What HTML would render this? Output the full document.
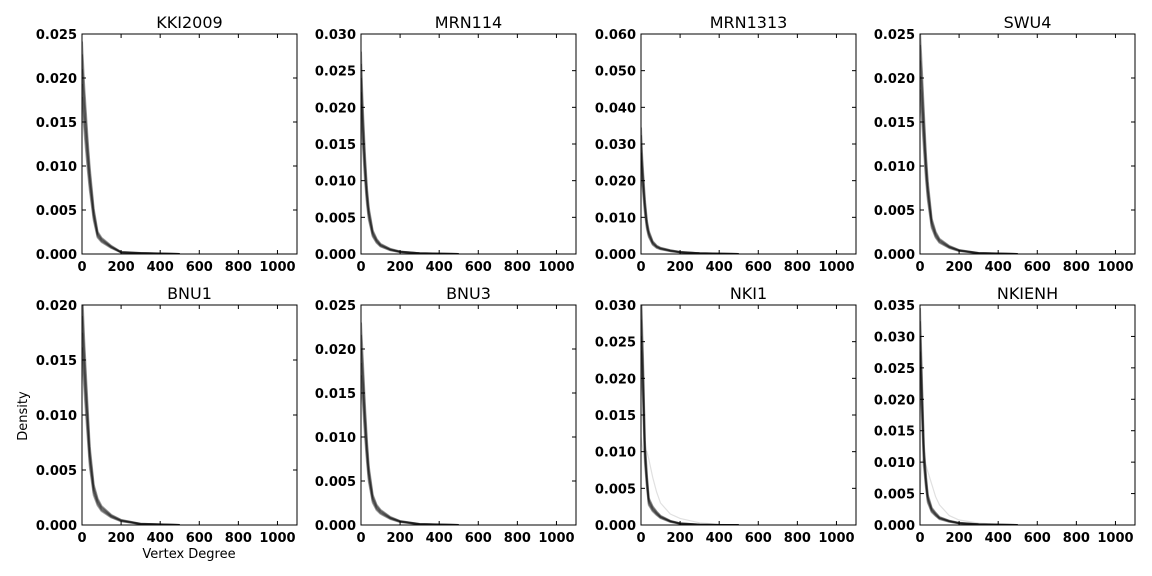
<!DOCTYPE html>
<html><head><meta charset="utf-8"><style>
html,body{margin:0;padding:0;background:#fff;width:1152px;height:576px;overflow:hidden}
svg{display:block}
.tk{font:bold 13px "DejaVu Sans","Liberation Sans",sans-serif;fill:#000}
.tt{font:16px "DejaVu Sans","Liberation Sans",sans-serif;fill:#000}
.al{font:13px "DejaVu Sans","Liberation Sans",sans-serif;fill:#000}
</style></head><body>
<svg id="fig" width="1152" height="576" xmlns="http://www.w3.org/2000/svg"></svg>
<script>
const panelNames = ["KKI2009","MRN114","MRN1313","SWU4","BNU1","BNU3","NKI1","NKIENH"];
const yMaxes = [0.025,0.030,0.060,0.025,0.020,0.025,0.030,0.035];
const ySteps = [0.005,0.005,0.01,0.005,0.005,0.005,0.005,0.005];
const xTicks = [0,200,400,600,800,1000];
const degrees = [0,5,10,20,30,40,60,80,100,150,200,300,400,500];
const densKKI2009 = [0.021,0.019,0.017,0.014,0.011,0.0085,0.0045,0.0022,0.0016,0.0008,0.0002,0.0001,0.00005,0];
const densMRN114  = [0.024,0.020,0.017,0.012,0.008,0.0055,0.0028,0.0018,0.0012,0.0006,0.0003,0.0001,0.00005,0];
const densMRN1313 = [0.030,0.024,0.020,0.013,0.008,0.0055,0.0030,0.0020,0.0015,0.0009,0.0005,0.0002,0.0001,0];
const densSWU4    = [0.022,0.020,0.018,0.014,0.010,0.0072,0.0035,0.0022,0.0015,0.0008,0.0004,0.0001,0.00005,0];
const densBNU1    = [0.019,0.017,0.015,0.012,0.009,0.0062,0.0032,0.0021,0.0015,0.0008,0.0004,0.0001,0.00005,0];
const densBNU3    = [0.020,0.018,0.016,0.012,0.0085,0.0058,0.0030,0.0020,0.0015,0.0008,0.0004,0.0001,0.00005,0];
const densNKI1    = [0.028,0.024,0.020,0.010,0.006,0.0032,0.0022,0.0016,0.0011,0.0005,0.0002,0.00005,0,0];
const densNKIENH  = [0.030,0.025,0.020,0.011,0.007,0.0042,0.0024,0.0017,0.0011,0.0006,0.0003,0.0001,0.00005,0];
const outlierNKI1   = [0.012,0.011,0.0102,0.0102,0.0100,0.0090,0.0065,0.0045,0.0030,0.0015,0.0009,0.0003,0.0001,0];
const outlierNKIENH = [0.005,0.008,0.0100,0.0105,0.0095,0.0085,0.0065,0.0045,0.0032,0.0015,0.0008,0.0003,0.0001,0];
const seriesList = [densKKI2009,densMRN114,densMRN1313,densSWU4,densBNU1,densBNU3,densNKI1,densNKIENH];
const outliers = [null,null,null,null,null,null,outlierNKI1,outlierNKIENH];

const NS="http://www.w3.org/2000/svg";
const svg=document.getElementById('fig');
function mk(tag,attrs,parent){const e=document.createElementNS(NS,tag);for(const k in attrs)e.setAttribute(k,attrs[k]);(parent||svg).appendChild(e);return e;}
const lefts=[82,361,641,920], tops=[34,305], W=215, H=220, XMAX=1100;

panelNames.forEach((name,i)=>{
  const L=lefts[i%4], T=tops[Math.floor(i/4)];
  const g=mk('g',{});
  
  
  const xs=v=>L+v/XMAX*W, ys=v=>T+H-v/yMaxes[i]*H;
  const draw=(arr,scale,op,sw)=>{
    const d=degrees.map((x,j)=>(j?'L':'M')+xs(x).toFixed(1)+','+ys(arr[j]*scale).toFixed(1)).join('');
    const p=mk('path',{d:d,fill:'none',stroke:'#000','stroke-opacity':op,'stroke-width':sw,'stroke-linejoin':'round'},g);
    
    
  };
  const clip=mk('clipPath',{id:'c'+i},g);mk('rect',{x:L,y:T,width:W,height:H},clip);
  const cg=mk('g',{'clip-path':'url(#c'+i+')'},g);
  const gg=g; 
  [0.85,0.92,1.0,1.08,1.15].forEach(s=>{
    const arr=seriesList[i];
    const d=degrees.map((x,j)=>(j?'L':'M')+xs(x).toFixed(1)+','+ys(arr[j]*s).toFixed(1)).join('');
    const p=mk('path',{d:d,fill:'none',stroke:'#000','stroke-opacity':0.35,'stroke-width':2,'stroke-linejoin':'round'},cg);
    
    
  });
  if(outliers[i]){
    const arr=outliers[i];
    const d=degrees.map((x,j)=>(j?'L':'M')+xs(x).toFixed(1)+','+ys(arr[j]).toFixed(1)).join('');
    const p=mk('path',{d:d,fill:'none',stroke:'#000','stroke-opacity':0.12,'stroke-width':1.2},cg);
    
    
  }
  const fr=mk('rect',{x:L,y:T,width:W,height:H,fill:'none',stroke:'#000','stroke-width':1},g);
  
  
  xTicks.forEach(v=>{
    const x=xs(v);
    mk('line',{x1:x,x2:x,y1:T+H,y2:T+H-4,stroke:'#000'},g);
    mk('line',{x1:x,x2:x,y1:T,y2:T+4,stroke:'#000'},g);
    const t=mk('text',{x:x,y:T+H+17,'text-anchor':'middle',class:'tk'},g);t.textContent=v;
    
    
  });
  const n=Math.round(yMaxes[i]/ySteps[i]);
  for(let k=0;k<=n;k++){
    const v=k*ySteps[i], y=ys(v);
    mk('line',{x1:L,x2:L+4,y1:y,y2:y,stroke:'#000'},g);
    mk('line',{x1:L+W,x2:L+W-4,y1:y,y2:y,stroke:'#000'},g);
    const t=mk('text',{x:L-5,y:y+5,'text-anchor':'end',class:'tk'},g);t.textContent=v.toFixed(3);
    
    
  }
  const tt=mk('text',{x:L+W/2,y:T-6,'text-anchor':'middle',class:'tt'},g);tt.textContent=name;
  
  
});
const yl=mk('text',{x:27,y:416,'text-anchor':'middle',class:'al',transform:'rotate(-90 27 416)'});yl.textContent='Density';


const xl=mk('text',{x:189,y:558,'text-anchor':'middle',class:'al'});xl.textContent='Vertex Degree';


</script>
</body></html>
